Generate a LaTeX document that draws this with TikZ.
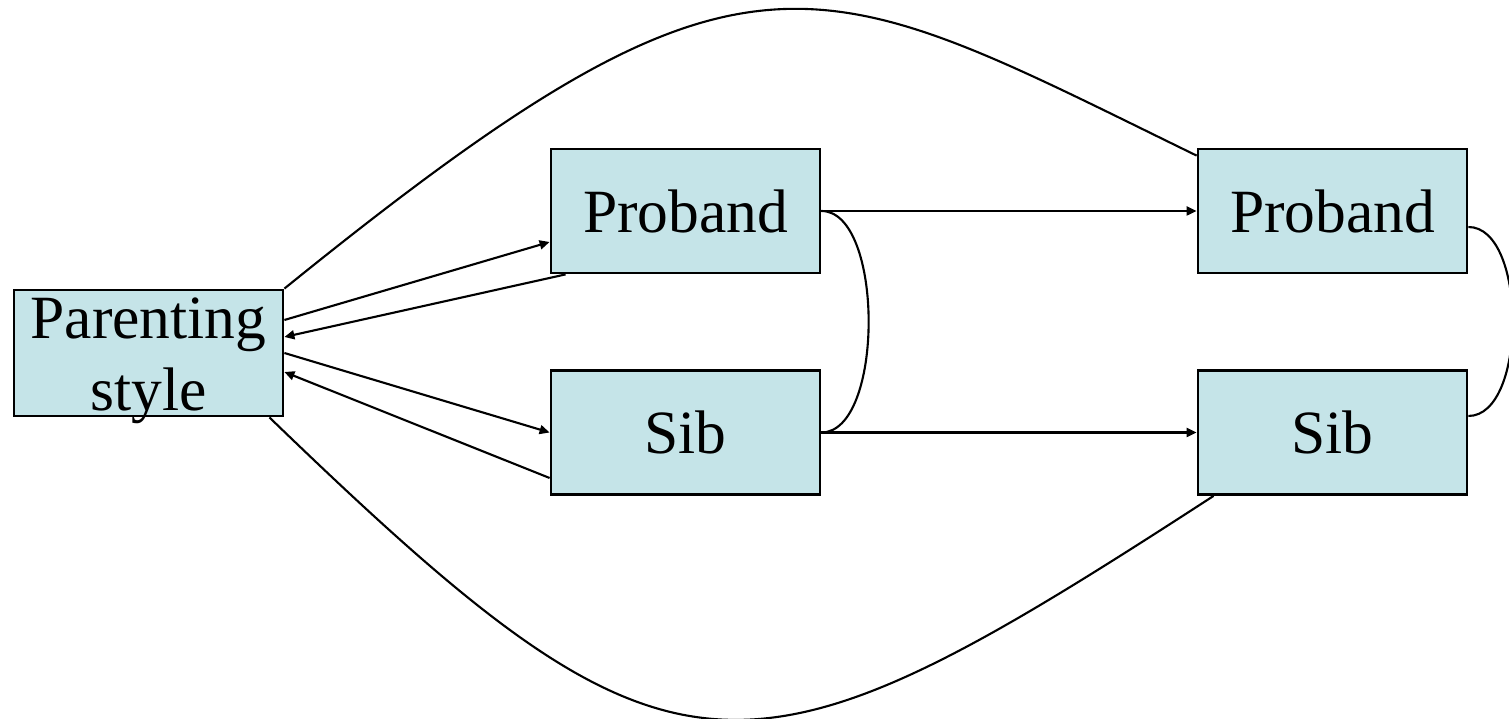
\documentclass[tikz,border=0pt]{standalone}
\usepackage{fontspec}
\setmainfont{Liberation Serif}
\usepackage{tikz}
\usetikzlibrary{arrows,arrows.meta}
\usetikzlibrary{calc, positioning}
\definecolor{boxfill}{RGB}{197,228,232}
\tikzset{
    boxN/.style={draw, fill=boxfill, line width=0.8pt, inner sep=0pt,
        minimum width=2.69cm, minimum height=1.24cm,
        font=\fontsize{17.5}{20.5}\selectfont},
    arrG/.style={line width=0.6pt, -{Triangle[length=1mm,width=0.9mm]}},
    bareL/.style={line width=0.6pt}
}

\begin{document}
\begin{tikzpicture}
    \def \xa {6.855}
    \def \xb {13.325}
    \def \yp {5.08}
    \def \ys {2.865}
    \useasboundingbox (0,0) rectangle (15.09,7.19);
    \node[boxN, align=center, text height=1.21cm, text depth=0.05cm] (par) at (1.485,3.66) {Parenting\\style};
    \node[boxN] (prob1) at (\xa,\yp) {Proband};
    \node[boxN] (sib1) at (\xa,\ys) {Sib};
    \node[boxN] (prob2) at (\xb,\yp) {Proband};
    \node[boxN] (sib2) at (\xb,\ys) {Sib};
    % parent <-> child paths
    \draw[arrG] ([yshift=0.33cm]par.east) -- ([yshift=-0.31cm]prob1.west);
    \draw[arrG] ([xshift=0.16cm]prob1.south west) -- ([yshift=0.16cm]par.east);
    \draw[arrG] (par.east) -- (sib1.west);
    \draw[arrG] ([yshift=-0.455cm]sib1.west) -- ([yshift=-0.19cm]par.east);
    % stability over time
    \draw[arrG] (prob1.east) -- (prob2.west);
    \draw[arrG] (sib1.east) -- (sib2.west);
    % correlations
    \draw[bareL] (prob1.east) .. controls +(0:0.63) and +(0:0.63) .. (sib1.east);
    \draw[bareL] ([yshift=-0.16cm]prob2.east) .. controls +(0:0.59) and +(0:0.59) .. ([yshift=0.165cm]sib2.east);
    \draw[bareL] (par.north east) .. controls +(39:6.0) and +(154:4.3) .. ([yshift=-0.08cm]prob2.north west);
    \draw[bareL] ([xshift=-0.15cm]par.south east) .. controls +(-44:5.65) and +(213:5.65) .. ([xshift=0.17cm]sib2.south west);
\end{tikzpicture}
\end{document}
